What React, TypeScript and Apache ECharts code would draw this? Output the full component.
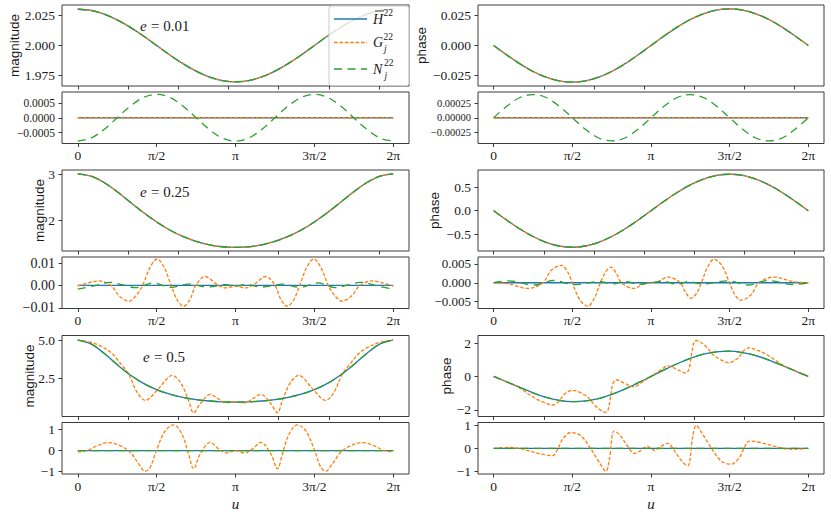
import React, { useEffect, useRef } from "react";
import * as echarts from "echarts";

// ---------- sample positions (eccentric anomaly u) ----------
const U25 = [0, 0.262, 0.524, 0.785, 1.047, 1.309, 1.571, 1.833, 2.094, 2.356, 2.618, 2.88, 3.142, 3.403, 3.665, 3.927, 4.189, 4.451, 4.712, 4.974, 5.236, 5.498, 5.76, 6.021, 6.283];
const ZERO_U = [0, 6.283];
const ZERO_V = [0, 0];

// ---------- e = 0.01 ----------
const MAG_E001 = [2.03, 2.029, 2.026, 2.0212, 2.015, 2.0078, 2.0, 1.9922, 1.985, 1.9788, 1.974, 1.971, 1.97, 1.971, 1.974, 1.9788, 1.985, 1.9922, 2.0, 2.0078, 2.015, 2.0212, 2.026, 2.029, 2.03];
const PHASE_E001 = [0, -0.0079, -0.0153, -0.0216, -0.0264, -0.0295, -0.0305, -0.0295, -0.0264, -0.0216, -0.0153, -0.0079, 0, 0.0079, 0.0153, 0.0216, 0.0264, 0.0295, 0.0305, 0.0295, 0.0264, 0.0216, 0.0153, 0.0079, 0];
const RES_MAG_N_E001 = [-0.00078, -0.00068, -0.00039, 0, 0.00039, 0.00068, 0.00078, 0.00068, 0.00039, 0, -0.00039, -0.00068, -0.00078, -0.00068, -0.00039, 0, 0.00039, 0.00068, 0.00078, 0.00068, 0.00039, 0, -0.00039, -0.00068, -0.00078];
const RES_PHASE_N_E001 = [0, 0.0002, 0.00035, 0.0004, 0.00035, 0.0002, 0, -0.0002, -0.00035, -0.0004, -0.00035, -0.0002, 0, 0.0002, 0.00035, 0.0004, 0.00035, 0.0002, 0, -0.0002, -0.00035, -0.0004, -0.00035, -0.0002, 0];

// ---------- e = 0.25 ----------
const MAG_E025 = [3.01, 2.96, 2.821, 2.621, 2.394, 2.168, 1.964, 1.789, 1.649, 1.542, 1.468, 1.425, 1.41, 1.425, 1.468, 1.542, 1.649, 1.789, 1.964, 2.168, 2.394, 2.621, 2.821, 2.96, 3.01];
const PHASE_E025 = [0, -0.201, -0.388, -0.548, -0.671, -0.749, -0.775, -0.749, -0.671, -0.548, -0.388, -0.201, 0, 0.201, 0.388, 0.548, 0.671, 0.749, 0.775, 0.749, 0.671, 0.548, 0.388, 0.201, 0];
const RES_MAG_G_E025_U = [0, 0.15, 0.42, 0.66, 0.84, 1.02, 1.18, 1.29, 1.45, 1.58, 1.71, 1.86, 1.98, 2.11, 2.24, 2.35, 2.54, 2.75, 2.94, 3.142, 3.34, 3.53, 3.74, 3.93, 4.04, 4.17, 4.3, 4.42, 4.57, 4.7, 4.83, 4.99, 5.1, 5.26, 5.44, 5.62, 5.86, 6.13, 6.283];
const RES_MAG_G_E025_V = [-0.0003, 0.0008, 0.002, 0, -0.005, -0.007, -0.004, 0, 0.0085, 0.0118, 0.0085, 0, -0.0065, -0.0093, -0.006, 0, 0.004, 0.0008, -0.0011, -0.0003, -0.0011, 0.0008, 0.004, 0, -0.006, -0.0093, -0.0065, 0, 0.0085, 0.0118, 0.0085, 0, -0.004, -0.007, -0.005, 0, 0.002, 0.0008, -0.0003];
const RES_MAG_N_E025_U = [0, 0.3, 0.65, 0.9, 1.15, 1.5, 1.85, 2.2, 2.6, 2.95, 3.142, 3.33, 3.68, 4.08, 4.43, 4.78, 5.13, 5.38, 5.63, 5.98, 6.283];
const RES_MAG_N_E025_V = [-0.0016, -0.0003, 0.0014, 0.0002, -0.001, 0.0011, -0.0009, 0.0006, -0.0007, 0.0004, -0.0003, 0.0004, -0.0007, 0.0006, -0.0009, 0.0011, -0.001, 0.0002, 0.0014, -0.0003, -0.0016];
const RES_PHASE_G_E025_U = [0, 0.3, 0.68, 0.98, 1.15, 1.35, 1.47, 1.57, 1.72, 1.88, 2.02, 2.13, 2.24, 2.34, 2.45, 2.55, 2.8, 3.0, 3.142, 3.28, 3.48, 3.73, 3.83, 3.94, 4.04, 4.15, 4.26, 4.4, 4.56, 4.71, 4.81, 4.93, 5.13, 5.3, 5.6, 5.98, 6.283];
const RES_PHASE_G_E025_V = [0, -0.0003, -0.0015, 0, 0.0033, 0.0046, 0.003, 0, -0.0045, -0.0062, -0.0038, 0, 0.003, 0.0041, 0.0025, 0, -0.0015, -0.0003, 0, 0.0003, 0.0015, 0, -0.0025, -0.0041, -0.003, 0, 0.0038, 0.0062, 0.0045, 0, -0.003, -0.0046, -0.0033, 0, 0.0015, 0.0003, 0];
const RES_PHASE_N_E025_U = [0, 0.3, 0.8, 1.2, 1.6, 2.1, 2.4, 2.6, 2.9, 3.142, 3.38, 3.68, 3.88, 4.18, 4.68, 5.08, 5.48, 5.98, 6.283];
const RES_PHASE_N_E025_V = [0, 0.0005, -0.0006, 0.0006, -0.0005, 0.0003, -0.0003, 0.0004, -0.0004, 0, 0.0004, -0.0004, 0.0003, -0.0003, 0.0005, -0.0006, 0.0006, -0.0005, 0];

// ---------- e = 0.5 ----------
const MAG_E05 = [5.0, 4.757, 4.14, 3.402, 2.722, 2.177, 1.768, 1.473, 1.265, 1.123, 1.031, 0.979, 0.962, 0.979, 1.031, 1.123, 1.265, 1.473, 1.768, 2.177, 2.722, 3.402, 4.14, 4.757, 5.0];
const PHASE_E05 = [0, -0.33, -0.66, -0.98, -1.25, -1.43, -1.51, -1.47, -1.33, -1.08, -0.76, -0.39, 0, 0.39, 0.76, 1.08, 1.33, 1.47, 1.51, 1.43, 1.25, 0.98, 0.66, 0.33, 0];
const MAG_G_E05_U = [0, 0.318, 0.649, 0.881, 1.014, 1.18, 1.345, 1.577, 1.776, 1.875, 2.041, 2.207, 2.306, 2.439, 2.637, 2.803, 2.969, 3.142, 3.315, 3.481, 3.646, 3.844, 3.977, 4.076, 4.242, 4.408, 4.507, 4.706, 4.938, 5.103, 5.269, 5.402, 5.634, 5.965, 6.283];
const MAG_G_E05_V = [5.0, 4.8, 4.22, 3.35, 2.78, 1.61, 1.07, 1.72, 2.48, 2.7, 2.26, 1.07, 0.26, 0.85, 1.46, 1.17, 0.91, 1.0, 0.91, 1.17, 1.46, 0.85, 0.26, 1.07, 2.26, 2.7, 2.48, 1.72, 1.07, 1.61, 2.78, 3.35, 4.22, 4.8, 5.0];
const PHASE_G_E05_U = [0, 0.35, 0.55, 0.68, 0.85, 1.01, 1.18, 1.3, 1.4, 1.58, 1.75, 1.9, 2.01, 2.15, 2.24, 2.28, 2.33, 2.38, 2.44, 2.6, 2.8, 2.94, 3.142, 3.34, 3.48, 3.68, 3.84, 3.9, 3.95, 4.0, 4.04, 4.13, 4.27, 4.38, 4.53, 4.7, 4.88, 4.98, 5.1, 5.27, 5.43, 5.6, 5.73, 5.93, 6.283];
const PHASE_G_E05_V = [0, -0.45, -0.75, -1.02, -1.35, -1.56, -1.71, -1.5, -1.1, -0.83, -1.0, -1.3, -1.71, -2.05, -2.15, -2.05, -1.3, -0.45, -0.2, -0.39, -0.63, -0.39, 0, 0.39, 0.63, 0.39, 0.2, 0.45, 1.3, 2.05, 2.15, 2.05, 1.71, 1.3, 1.0, 0.83, 1.1, 1.5, 1.71, 1.56, 1.35, 1.02, 0.75, 0.45, 0];
const RES_MAG_G_E05_U = [0, 0.185, 0.384, 0.616, 0.848, 1.047, 1.213, 1.345, 1.445, 1.577, 1.743, 1.909, 2.074, 2.207, 2.306, 2.439, 2.637, 2.803, 2.969, 3.142, 3.314, 3.48, 3.646, 3.844, 3.977, 4.076, 4.209, 4.374, 4.54, 4.706, 4.838, 4.938, 5.07, 5.236, 5.435, 5.667, 5.899, 6.098, 6.283];
const RES_MAG_G_E05_V = [-0.06, 0.0, 0.23, 0.38, 0.23, -0.08, -0.63, -0.98, -0.78, 0.08, 0.94, 1.22, 0.78, -0.16, -0.86, -0.16, 0.39, 0.08, -0.11, 0.0, -0.11, 0.08, 0.39, -0.16, -0.86, -0.16, 0.78, 1.22, 0.94, 0.08, -0.78, -0.98, -0.63, -0.08, 0.23, 0.38, 0.23, 0.0, -0.06];
const RES_PHASE_G_E05_U = [0, 0.285, 0.484, 0.683, 1.014, 1.18, 1.279, 1.378, 1.544, 1.743, 1.942, 2.107, 2.24, 2.306, 2.406, 2.505, 2.671, 2.803, 2.936, 3.068, 3.142, 3.216, 3.347, 3.48, 3.612, 3.778, 3.877, 3.977, 4.043, 4.176, 4.341, 4.54, 4.739, 4.905, 5.004, 5.103, 5.269, 5.6, 5.799, 5.998, 6.283];
const RES_PHASE_G_E05_V = [0, 0.04, 0.01, -0.1, -0.28, -0.32, -0.03, 0.41, 0.7, 0.55, -0.03, -0.61, -1.01, -0.54, 0.77, 0.62, 0.12, -0.22, -0.1, 0.09, 0, -0.09, 0.1, 0.22, -0.12, -0.62, -0.77, 0.54, 1.01, 0.61, 0.03, -0.55, -0.7, -0.41, 0.03, 0.32, 0.28, 0.1, -0.01, -0.04, 0];

// ---------- axes ticks / labels ----------
const X_MIN = -0.3142;
const X_MAX = 6.5974;
const MAIN_X_TICKS = [0, 1, 2, 3, 4, 5, 6];
const RES_X_TICKS = [0, 1.5708, 3.1416, 4.7124, 6.2832];
const RES_X_LABELS = ["0", "π/2", "π", "3π/2", "2π"];

const Y_TICKS_R1L = [1.975, 2.0, 2.025];
const Y_LABELS_R1L = ["1.975", "2.000", "2.025"];
const Y_TICKS_R1R = [-0.025, 0, 0.025];
const Y_LABELS_R1R = ["−0.025", "0.000", "0.025"];
const Y_TICKS_R1LR = [-0.0005, 0, 0.0005];
const Y_LABELS_R1LR = ["−0.0005", "0.0000", "0.0005"];
const Y_TICKS_R1RR = [-0.00025, 0, 0.00025];
const Y_LABELS_R1RR = ["−0.00025", "0.00000", "0.00025"];
const Y_TICKS_R2L = [2, 3];
const Y_LABELS_R2L = ["2", "3"];
const Y_TICKS_R2R = [-0.5, 0, 0.5];
const Y_LABELS_R2R = ["−0.5", "0.0", "0.5"];
const Y_TICKS_R2LR = [-0.01, 0, 0.01];
const Y_LABELS_R2LR = ["−0.01", "0.00", "0.01"];
const Y_TICKS_R2RR = [-0.005, 0, 0.005];
const Y_LABELS_R2RR = ["−0.005", "0.000", "0.005"];
const Y_TICKS_R3L = [2.5, 5.0];
const Y_LABELS_R3L = ["2.5", "5.0"];
const Y_TICKS_R3R = [-2, 0, 2];
const Y_LABELS_R3R = ["−2", "0", "2"];
const Y_TICKS_R3RES = [-1, 0, 1];
const Y_LABELS_R3RES = ["−1", "0", "1"];

const ECC_LABELS = ["0.01", "0.25", "0.5"];

const BLUE = "#1f77b4";
const ORANGE = "#ff7f0e";
const GREEN = "#2ca02c";
const SERIF = "'Liberation Serif', 'DejaVu Serif', serif";
const SANS = "'Liberation Sans', 'DejaVu Sans', sans-serif";
const INK = "#1a1a1a";

type Line = { u: number[]; v: number[]; kind: "H" | "G" | "N" };
type Panel = {
  left: number; top: number; width: number; height: number;
  ymin: number; ymax: number; yticks: number[]; ylabels: string[]; fs: number;
  res: boolean; lines: Line[];
};

const LW = 347, RW = 346, MH = 81, RH = 51.5;
const LX = 62, RX = 478;

function trio(u: number[], v: number[]): Line[] {
  return [
    { u, v, kind: "H" },
    { u, v, kind: "G" },
    { u, v, kind: "N" },
  ];
}

const PANELS: Panel[] = [
  // row 1 (e = 0.01)
  { left: LX, top: 5, width: LW, height: MH, ymin: 1.9665, ymax: 2.0335, yticks: Y_TICKS_R1L, ylabels: Y_LABELS_R1L, fs: 13.5, res: false, lines: trio(U25, MAG_E001) },
  { left: RX, top: 5, width: RW, height: MH, ymin: -0.0337, ymax: 0.0337, yticks: Y_TICKS_R1R, ylabels: Y_LABELS_R1R, fs: 13.5, res: false, lines: trio(U25, PHASE_E001) },
  { left: LX, top: 92, width: LW, height: RH, ymin: -0.00086, ymax: 0.00086, yticks: Y_TICKS_R1LR, ylabels: Y_LABELS_R1LR, fs: 11.5, res: true,
    lines: [{ u: ZERO_U, v: ZERO_V, kind: "H" }, { u: ZERO_U, v: ZERO_V, kind: "G" }, { u: U25, v: RES_MAG_N_E001, kind: "N" }] },
  { left: RX, top: 92, width: RW, height: RH, ymin: -0.000445, ymax: 0.000445, yticks: Y_TICKS_R1RR, ylabels: Y_LABELS_R1RR, fs: 10.5, res: true,
    lines: [{ u: ZERO_U, v: ZERO_V, kind: "H" }, { u: ZERO_U, v: ZERO_V, kind: "G" }, { u: U25, v: RES_PHASE_N_E001, kind: "N" }] },
  // row 2 (e = 0.25)
  { left: LX, top: 170, width: LW, height: MH, ymin: 1.333, ymax: 3.094, yticks: Y_TICKS_R2L, ylabels: Y_LABELS_R2L, fs: 13.5, res: false, lines: trio(U25, MAG_E025) },
  { left: RX, top: 170, width: RW, height: MH, ymin: -0.855, ymax: 0.865, yticks: Y_TICKS_R2R, ylabels: Y_LABELS_R2R, fs: 13.5, res: false, lines: trio(U25, PHASE_E025) },
  { left: LX, top: 257, width: LW, height: RH, ymin: -0.0103, ymax: 0.0127, yticks: Y_TICKS_R2LR, ylabels: Y_LABELS_R2LR, fs: 14, res: true,
    lines: [{ u: ZERO_U, v: ZERO_V, kind: "H" }, { u: RES_MAG_G_E025_U, v: RES_MAG_G_E025_V, kind: "G" }, { u: RES_MAG_N_E025_U, v: RES_MAG_N_E025_V, kind: "N" }] },
  { left: RX, top: 257, width: RW, height: RH, ymin: -0.0068, ymax: 0.0068, yticks: Y_TICKS_R2RR, ylabels: Y_LABELS_R2RR, fs: 13, res: true,
    lines: [{ u: ZERO_U, v: ZERO_V, kind: "H" }, { u: RES_PHASE_G_E025_U, v: RES_PHASE_G_E025_V, kind: "G" }, { u: RES_PHASE_N_E025_U, v: RES_PHASE_N_E025_V, kind: "N" }] },
  // row 3 (e = 0.5)
  { left: LX, top: 335.5, width: LW, height: MH, ymin: 0.02, ymax: 5.3, yticks: Y_TICKS_R3L, ylabels: Y_LABELS_R3L, fs: 13.5, res: false,
    lines: [{ u: U25, v: MAG_E05, kind: "H" }, { u: MAG_G_E05_U, v: MAG_G_E05_V, kind: "G" }, { u: U25, v: MAG_E05, kind: "N" }] },
  { left: RX, top: 335.5, width: RW, height: MH, ymin: -2.4, ymax: 2.45, yticks: Y_TICKS_R3R, ylabels: Y_LABELS_R3R, fs: 13.5, res: false,
    lines: [{ u: U25, v: PHASE_E05, kind: "H" }, { u: PHASE_G_E05_U, v: PHASE_G_E05_V, kind: "G" }, { u: U25, v: PHASE_E05, kind: "N" }] },
  { left: LX, top: 422.5, width: LW, height: RH, ymin: -1.11, ymax: 1.33, yticks: Y_TICKS_R3RES, ylabels: Y_LABELS_R3RES, fs: 13.5, res: true,
    lines: [{ u: ZERO_U, v: ZERO_V, kind: "H" }, { u: RES_MAG_G_E05_U, v: RES_MAG_G_E05_V, kind: "G" }, { u: ZERO_U, v: ZERO_V, kind: "N" }] },
  { left: RX, top: 422.5, width: RW, height: RH, ymin: -1.13, ymax: 1.14, yticks: Y_TICKS_R3RES, ylabels: Y_LABELS_R3RES, fs: 13.5, res: true,
    lines: [{ u: ZERO_U, v: ZERO_V, kind: "H" }, { u: RES_PHASE_G_E05_U, v: RES_PHASE_G_E05_V, kind: "G" }, { u: ZERO_U, v: ZERO_V, kind: "N" }] },
];

const LINE_STYLE: Record<string, any> = {
  H: { color: BLUE, width: 1.3, type: "solid" },
  G: { color: ORANGE, width: 1.3, type: [3.6, 1.8] },
  N: { color: GREEN, width: 1.3, type: [8, 5.5] },
};

function pick(ticks: number[], labels: string[], v: number): string {
  let best = -1, d = Infinity;
  ticks.forEach((t, i) => {
    const dd = Math.abs(t - v);
    if (dd < d) { d = dd; best = i; }
  });
  return best >= 0 ? labels[best] : "";
}

function zip(u: number[], v: number[]) {
  return u.map((x, i) => [x, v[i]]);
}

function txt(x: number, y: number, text: string, opts: any = {}) {
  return {
    type: "text",
    x, y, z: 100, silent: true,
    rotation: opts.rotation || 0,
    style: {
      text,
      fill: INK,
      fontFamily: opts.family || SERIF,
      fontSize: opts.size || 13,
      fontStyle: opts.italic ? "italic" : "normal",
      textAlign: opts.align || "left",
      align: opts.align || "left",
      textVerticalAlign: "middle",
      verticalAlign: "middle",
    },
  };
}

function buildOption() {
  const grid = PANELS.map((p) => ({
    left: p.left, top: p.top, width: p.width, height: p.height,
    show: true, borderColor: "#262626", borderWidth: 0.9, backgroundColor: "rgba(0,0,0,0)",
  }));
  const tickStyle = { color: "#262626", width: 0.9 };
  const xAxis = PANELS.map((p, i) => ({
    type: "value", gridIndex: i, min: X_MIN, max: X_MAX,
    axisLine: { show: false, onZero: false },
    splitLine: { show: false },
    axisTick: { show: true, length: 3.5, inside: false, customValues: p.res ? RES_X_TICKS : MAIN_X_TICKS, lineStyle: tickStyle },
    axisLabel: {
      show: p.res, customValues: RES_X_TICKS, margin: 5,
      formatter: (v: number) => pick(RES_X_TICKS, RES_X_LABELS, v),
      fontFamily: SERIF, fontSize: 13.5, color: INK,
    },
  }));
  const yAxis = PANELS.map((p, i) => ({
    type: "value", gridIndex: i, min: p.ymin, max: p.ymax,
    axisLine: { show: false, onZero: false },
    splitLine: { show: false },
    axisTick: { show: true, length: 3.5, inside: false, customValues: p.yticks, lineStyle: tickStyle },
    axisLabel: {
      show: true, customValues: p.yticks, margin: 7,
      formatter: (v: number) => pick(p.yticks, p.ylabels, v),
      fontFamily: SERIF, fontSize: p.fs, color: INK,
    },
  }));
  const series: any[] = [];
  PANELS.forEach((p, i) => {
    p.lines.forEach((ln, k) => {
      series.push({
        type: "line", xAxisIndex: i, yAxisIndex: i,
        data: zip(ln.u, ln.v),
        symbol: "none", showSymbol: false, smooth: 0.35,
        lineStyle: LINE_STYLE[ln.kind], itemStyle: { color: LINE_STYLE[ln.kind].color },
        z: 3 + k, silent: true, animation: false,
      });
    });
  });

  const graphics: any[] = [];
  // y-axis titles
  const mainCenters = [45.5, 210.5, 376];
  const magX = [14, 39, 29];
  const phX = [421, 434, 446];
  mainCenters.forEach((cy, r) => {
    graphics.push(txt(magX[r], cy, "magnitude", { family: SANS, size: 13.5, align: "center", rotation: Math.PI / 2 }));
    graphics.push(txt(phX[r], cy, "phase", { family: SANS, size: 13.5, align: "center", rotation: Math.PI / 2 }));
  });
  // eccentricity annotations
  const eX = [140, 140, 143];
  const eY = [26, 191.5, 357];
  ECC_LABELS.forEach((lab, r) => {
    graphics.push(txt(eX[r], eY[r], "e", { size: 15, italic: true }));
    graphics.push(txt(eX[r] + 11, eY[r], "= " + lab, { size: 15 }));
  });
  // x-axis name
  graphics.push(txt(235.5, 504, "u", { size: 15, italic: true, align: "center" }));
  graphics.push(txt(651, 504, "u", { size: 15, italic: true, align: "center" }));

  // legend box in the first panel
  graphics.push({
    type: "rect", z: 99, silent: true,
    shape: { x: 329, y: 6, width: 80, height: 79.5, r: 2.5 },
    style: { fill: "rgba(255,255,255,0.8)", stroke: "#cccccc", lineWidth: 1 },
  });
  const legY = [19, 42.5, 69];
  const legKinds = ["H", "G", "N"];
  const legBase = ["H", "G", "N"];
  legKinds.forEach((k, i) => {
    const st = LINE_STYLE[k];
    graphics.push({
      type: "line", z: 100, silent: true,
      shape: { x1: 334, y1: legY[i], x2: 367, y2: legY[i] },
      style: { stroke: st.color, lineWidth: 1.4, lineDash: Array.isArray(st.type) ? st.type : null },
    });
    graphics.push(txt(373, legY[i], legBase[i], { size: 14, italic: true }));
    const sx = i === 2 ? 384 : 383.5;
    graphics.push(txt(sx, legY[i] - 6, "22", { size: 9.5 }));
    if (i > 0) graphics.push(txt(sx + 0.5, legY[i] + 6.5, "j", { size: 9.5, italic: true }));
  });
  // overline of H
  graphics.push({
    type: "line", z: 100, silent: true,
    shape: { x1: 375, y1: legY[0] - 8, x2: 384, y2: legY[0] - 8 },
    style: { stroke: INK, lineWidth: 0.8 },
  });

  return {
    animation: false,
    backgroundColor: "#ffffff",
    textStyle: { fontFamily: SERIF },
    grid, xAxis, yAxis, series,
    graphic: { elements: graphics },
  };
}

export default function App() {
  const ref = useRef<HTMLDivElement>(null);
  useEffect(() => {
    if (!ref.current) return;
    const chart = echarts.init(ref.current, undefined, { renderer: "svg" });
    chart.setOption(buildOption() as any);
    return () => chart.dispose();
  }, []);
  return (
    <div
      ref={ref}
      style={{ position: "fixed", left: 0, top: 0, width: 831, height: 517, background: "#fff" }}
    />
  );
}
